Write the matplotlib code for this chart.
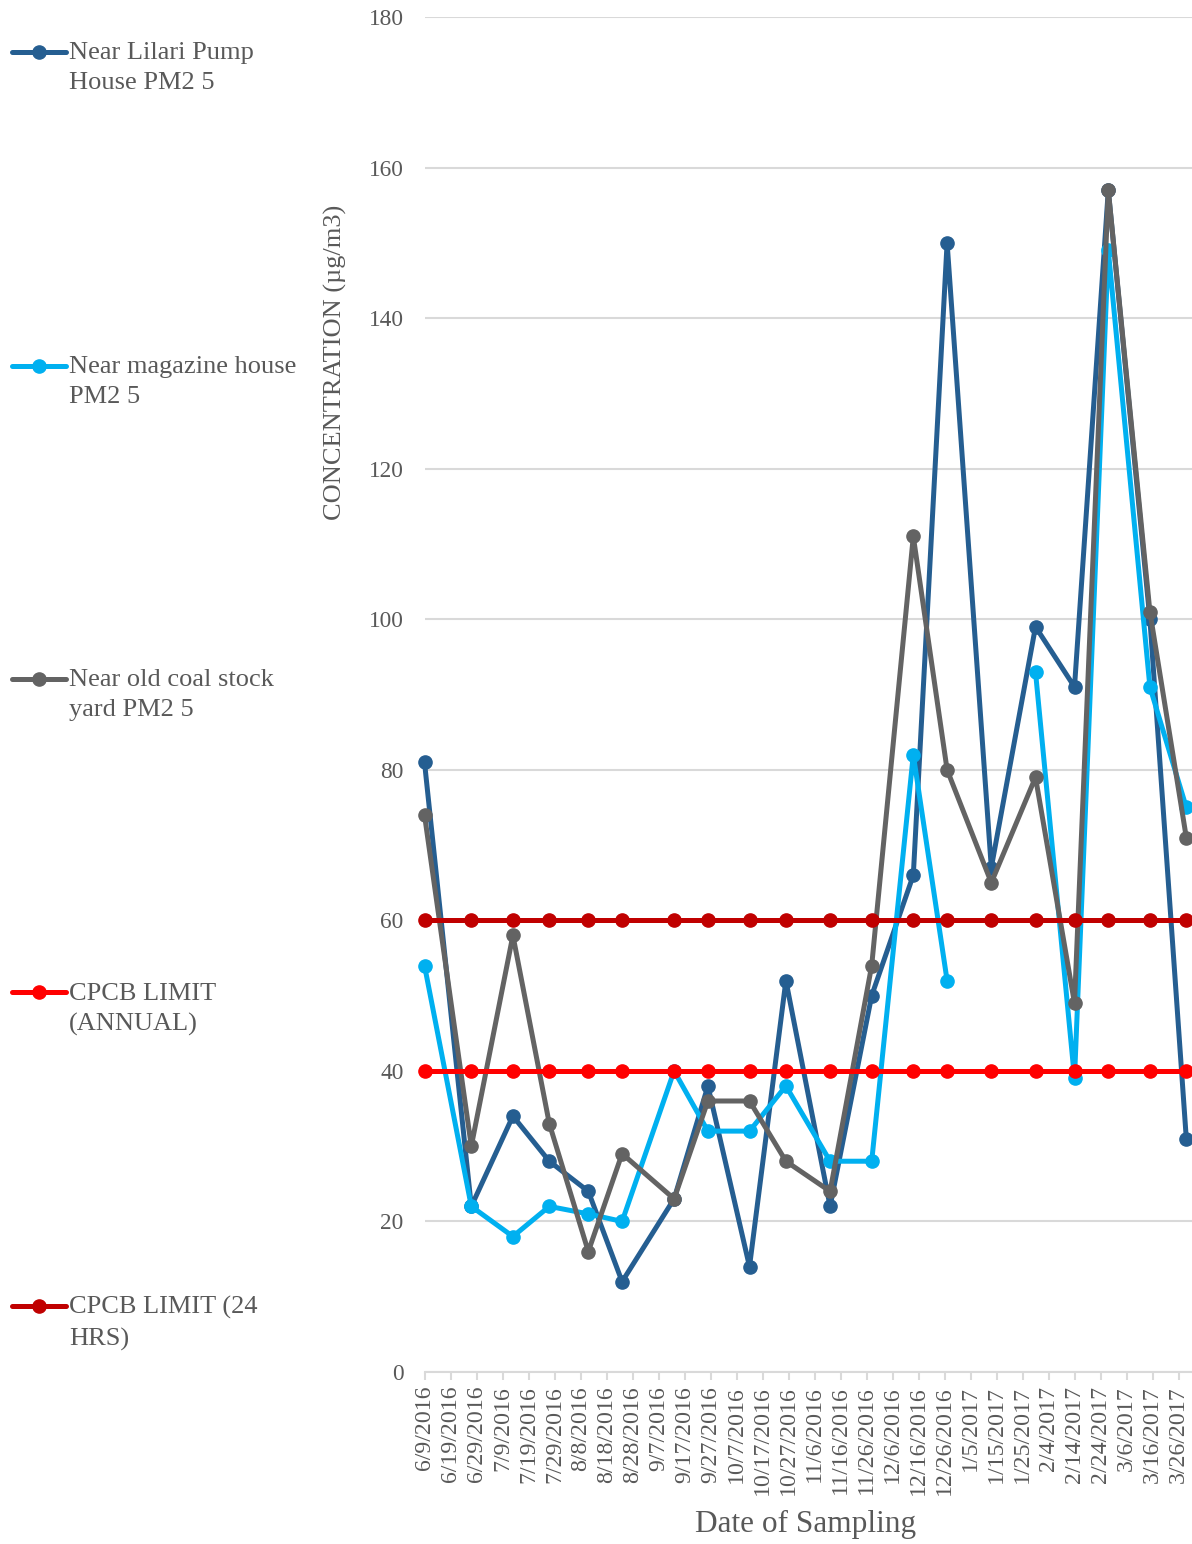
import numpy as np
import pandas as pd
import matplotlib
matplotlib.use('Agg')
import matplotlib.pyplot as plt
import matplotlib.dates as mdates
from matplotlib.lines import Line2D

# sampling dates and PM2.5 readings (ug/m3)
dates = pd.to_datetime([
    '2016-06-09', '2016-06-27', '2016-07-13', '2016-07-27', '2016-08-11',
    '2016-08-24', '2016-09-13', '2016-09-26', '2016-10-12', '2016-10-26',
    '2016-11-12', '2016-11-28', '2016-12-14', '2016-12-27', '2017-01-13',
    '2017-01-30', '2017-02-14', '2017-02-27', '2017-03-15', '2017-03-29'])

lilari = [81, 22, 34, 28, 24, 12, 23, 38, 14, 52, 22, 50, 66, 150, 67, 99, 91, 157, 100, 31]
magazine = [54, 22, 18, 22, 21, 20, 40, 32, 32, 38, 28, 28, 82, 52, np.nan, 93, 39, 149, 91, 75]
coal_yard = [74, 30, 58, 33, 16, 29, 23, 36, 36, 28, 24, 54, 111, 80, 65, 79, 49, 157, 101, 71]
limit_annual = [40] * 20
limit_24h = [60] * 20

series_names = ['Near Lilari Pump\nHouse PM2 5', 'Near magazine house\nPM2 5',
                'Near old coal stock\nyard PM2 5', 'CPCB LIMIT\n(ANNUAL)', 'CPCB LIMIT (24\nHRS)']
series_colors = ['#255E91', '#00B0F0', '#636363', '#FF0000', '#C00000']

tick_start = pd.Timestamp('2016-06-09')
tick_dates = pd.date_range(tick_start, periods=30, freq='10D')
tick_labels = [f'{d.month}/{d.day}/{d.year}' for d in tick_dates]

plt.rcParams['font.family'] = ['Liberation Serif', 'DejaVu Serif']
txt_color = '#595959'
grid_color = '#D9D9D9'

W, H = 1192, 1544
fig = plt.figure(figsize=(W / 100, H / 100), dpi=100)
ax_left, ax_right, ax_top, ax_bottom = 424.5, 1192, 17, 1372
ax = fig.add_axes([ax_left / W, 1 - ax_bottom / H, (ax_right - ax_left) / W, (ax_bottom - ax_top) / H])

all_series = [lilari, magazine, coal_yard, limit_annual, limit_24h]
for vals, col in zip(all_series, series_colors):
    ax.plot(dates, vals, color=col, lw=3.6, marker='o', markersize=9.5,
            solid_capstyle='round', clip_on=False, zorder=3)

x0 = mdates.date2num(tick_start)
ax.set_xlim(x0, x0 + (ax_right - ax_left) / 2.6)
ax.set_ylim(0, 180)
ax.set_yticks(np.arange(0, 181, 20))
ax.set_xticks(tick_dates)
ax.set_xticklabels(tick_labels, rotation=90)

ax.grid(axis='y', color=grid_color, lw=1.5)
ax.set_axisbelow(True)
for s in ['top', 'right', 'left']:
    ax.spines[s].set_visible(False)
ax.spines['bottom'].set_color(grid_color)
ax.spines['bottom'].set_linewidth(1.5)
ax.tick_params(axis='y', length=0, pad=15, labelsize=16.8, labelcolor=txt_color)
ax.tick_params(axis='x', length=6, width=1.5, color=grid_color, direction='out',
               pad=4, labelsize=17.2, labelcolor=txt_color)

ax.set_ylabel('CONCENTRATION (µg/m3)', fontsize=19, color=txt_color, va='center')
ax.yaxis.set_label_coords((335 - ax_left) / (ax_right - ax_left), (ax_bottom - 362) / (ax_bottom - ax_top))
ax.set_xlabel('Date of Sampling', fontsize=22.5, color=txt_color, va='center')
ax.xaxis.set_label_coords((806 - ax_left) / (ax_right - ax_left), (ax_bottom - 1524) / (ax_bottom - ax_top))

# legend on the left, drawn by hand so entries spread down the page
marker_y = [52, 365.5, 679, 992.5, 1306]
for name, col, my in zip(series_names, series_colors, marker_y):
    fy = 1 - my / H
    fig.add_artist(Line2D([12 / W, 39 / W, 66 / W], [fy, fy, fy], transform=fig.transFigure,
                          color=col, lw=3.6, marker='o', markersize=9.5, markevery=[1],
                          solid_capstyle='round'))
    fig.text(69 / W, 1 - (my - 10) / H, name, fontsize=19, color=txt_color,
             va='top', ha='left', linespacing=1.48)

fig.savefig('out.png', dpi=100)
